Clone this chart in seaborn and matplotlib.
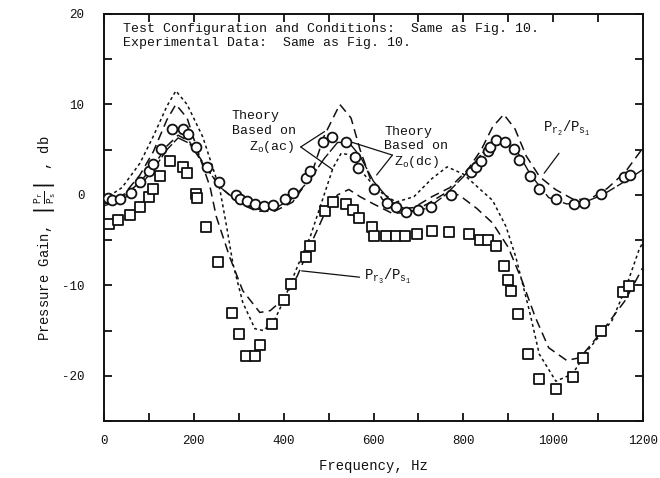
import numpy as np
import pandas as pd
import matplotlib
matplotlib.use("Agg")
import matplotlib.pyplot as plt
from matplotlib.ticker import MultipleLocator
import seaborn as sns

circ_f = [8, 17, 35, 60, 80, 101, 110, 126, 152, 176, 187, 204, 229, 255, 293, 302, 318, 336, 357,
          376, 402, 420, 450, 458, 487, 507, 538, 558, 566, 602, 631, 649, 673, 698, 729, 773, 817,
          828, 840, 854, 860, 873, 893, 912, 924, 948, 969, 1007, 1047, 1069, 1107, 1158, 1171]
circ_v = [-0.3, -0.6, -0.5, 0.2, 1.4, 2.6, 3.4, 5.1, 7.3, 7.3, 6.7, 5.3, 3.1, 1.4, 0.0, -0.4, -0.7,
          -1.0, -1.2, -1.1, -0.5, 0.2, 1.9, 2.6, 5.9, 6.4, 5.8, 4.2, 3.0, 0.6, -0.9, -1.3, -1.9, -1.7,
          -1.3, 0.0, 2.5, 3.1, 3.8, 4.8, 5.3, 6.1, 5.9, 5.1, 3.9, 2.1, 0.6, -0.5, -1.0, -0.9, 0.1, 2.0, 2.2]

sq_f = [12, 31, 58, 80, 101, 110, 124, 148, 175, 185, 204, 207, 228, 254, 285, 300, 317, 336, 348,
        374, 400, 417, 449, 458, 493, 509, 538, 555, 567, 596, 600, 628, 650, 670, 697, 731, 769, 813,
        836, 856, 873, 891, 900, 907, 922, 945, 969, 1006, 1044, 1067, 1106, 1156, 1169]
sq_v = [-3.2, -2.8, -2.2, -1.3, -0.2, 0.6, 2.1, 3.8, 3.1, 2.4, 0.1, -0.3, -3.6, -7.4, -13.1, -15.4,
        -17.8, -17.8, -16.6, -14.3, -11.6, -9.8, -6.9, -5.7, -1.8, -0.8, -1.0, -1.7, -2.5, -3.6, -4.5,
        -4.6, -4.6, -4.6, -4.3, -4.0, -4.1, -4.3, -5.0, -5.0, -5.7, -7.9, -9.4, -10.6, -13.2, -17.6,
        -20.4, -21.5, -20.1, -18.0, -15.1, -10.7, -10.1]

# ---- theory curves ----
pr2_a_f = [0, 40, 80, 110, 140, 165, 190, 220, 260, 300, 340, 380, 420, 460, 490, 520, 545, 570, 600,
           640, 680, 720, 760, 800, 840, 870, 895, 920, 950, 990, 1030, 1070, 1110, 1150, 1200]
pr2_a_v = [-1.2, -0.6, 1.0, 2.8, 5.0, 6.3, 5.7, 3.5, 0.8, -0.8, -1.6, -1.5, -0.4, 1.8, 4.0, 5.8, 5.8,
           4.3, 1.5, -0.8, -1.8, -1.5, 0.0, 2.0, 4.5, 6.0, 6.2, 4.8, 2.2, -0.3, -1.0, -0.8, 0.0, 1.2, 2.8]

pr2_b_f = [0, 40, 80, 110, 140, 165, 190, 220, 260, 300, 340, 380, 420, 460, 490, 525, 550, 570, 595,
           620, 650, 690, 730, 770, 810, 840, 865, 890, 915, 940, 970, 1005, 1045, 1080, 1120, 1160, 1200]
pr2_b_v = [-0.9, -0.3, 1.4, 3.2, 5.4, 6.6, 5.9, 3.6, 0.8, -0.9, -1.8, -1.8, -0.8, 2.0, 6.5, 10.0, 8.5,
           5.0, 1.5, -0.5, -1.6, -1.4, -0.2, 0.8, 2.8, 5.0, 7.5, 8.9, 7.3, 4.3, 2.0, 0.6, -0.5, -0.5,
           0.7, 2.5, 5.2]

pr3_a_f = [0, 40, 80, 110, 140, 160, 185, 213, 236, 250, 280, 309, 347, 370, 400, 430, 460, 490, 520,
           545, 570, 600, 640, 680, 720, 760, 790, 830, 865, 900, 930, 960, 990, 1030, 1060, 1110, 1160, 1200]
pr3_a_v = [-1.0, -0.2, 2.2, 4.8, 8.3, 10.0, 8.5, 4.2, 0.9, -2.4, -6.9, -10.6, -13.0, -12.8, -11.5,
           -9.0, -5.5, -2.2, 0.0, 0.6, -0.2, -1.0, -2.0, -2.0, -1.0, 0.2, 0.0, -1.5, -3.1, -5.8, -9.4,
           -13.5, -16.9, -18.3, -18.0, -15.0, -11.7, -8.0]

pr3_b_f = [0, 40, 80, 110, 140, 160, 185, 220, 258, 273, 287, 309, 336, 355, 380, 400, 430, 460, 490,
           510, 528, 550, 575, 610, 650, 690, 730, 764, 800, 840, 865, 895, 917, 947, 969, 1006, 1043,
           1080, 1131, 1160, 1191, 1200]
pr3_b_v = [-0.5, 0.8, 3.5, 6.5, 9.8, 11.5, 10.0, 6.4, 0.6, -3.5, -7.6, -11.9, -14.8, -15.0, -13.8,
           -11.7, -8.0, -4.5, 0.0, 3.0, 4.6, 4.4, 2.5, 0.5, -0.8, -0.2, 1.8, 3.1, 2.3, 0.5, -0.6, -3.5,
           -6.9, -12.8, -17.6, -20.6, -19.8, -17.0, -13.9, -10.5, -6.1, -5.2]

x_ticks_labeled = [0, 200, 400, 600, 800, 1000, 1200]
y_ticks_labeled = [-20, -10, 0, 10, 20]

sns.set_theme(style="ticks")
plt.rcParams["font.family"] = ["Liberation Mono", "DejaVu Sans"]
plt.rcParams["mathtext.fontset"] = "custom"
plt.rcParams["mathtext.rm"] = "Liberation Mono"
plt.rcParams["mathtext.it"] = "Liberation Mono"
plt.rcParams["mathtext.bf"] = "Liberation Mono"
plt.rcParams["axes.unicode_minus"] = False

fig = plt.figure(figsize=(6.6, 4.78), dpi=100)
ax = fig.add_axes([104 / 660, 1 - 421 / 478, (643 - 104) / 660, (421 - 14) / 478])

ink = "#111111"
sns.lineplot(x=pr2_a_f, y=pr2_a_v, ax=ax, color=ink, lw=1.0, linestyle=(0, (12, 2)),
             estimator=None, sort=False)
sns.lineplot(x=pr2_b_f, y=pr2_b_v, ax=ax, color=ink, lw=1.1, linestyle=(0, (6, 3.5)),
             estimator=None, sort=False)
sns.lineplot(x=pr3_a_f, y=pr3_a_v, ax=ax, color=ink, lw=1.1, linestyle=(0, (6, 3.5)),
             estimator=None, sort=False)
sns.lineplot(x=pr3_b_f, y=pr3_b_v, ax=ax, color=ink, lw=1.1, linestyle=(0, (2, 2)),
             estimator=None, sort=False)

sns.scatterplot(x=circ_f, y=circ_v, ax=ax, marker="o", s=50, facecolor="white",
                edgecolor=ink, linewidth=1.3, zorder=4)
sns.scatterplot(x=sq_f, y=sq_v, ax=ax, marker="s", s=46, facecolor="white",
                edgecolor=ink, linewidth=1.3, zorder=4)

ax.set_xlim(0, 1200)
ax.set_ylim(-25, 20)
ax.set_xticks(x_ticks_labeled)
ax.set_yticks(y_ticks_labeled)
ax.xaxis.set_minor_locator(MultipleLocator(100))
ax.yaxis.set_minor_locator(MultipleLocator(5))
ax.tick_params(which="both", direction="in", top=True, right=True, length=6, width=1.3,
               color=ink, labelcolor=ink, labelsize=9)
ax.tick_params(axis="y", pad=14)
ax.tick_params(axis="x", pad=10)
for s in ax.spines.values():
    s.set_linewidth(1.4)
    s.set_color(ink)

ax.set_xlabel("Frequency, Hz", fontsize=10, color=ink, labelpad=9)
ax.set_ylabel(r"Pressure Gain, $\left|\frac{\mathrm{P_r}}{\mathrm{P_s}}\right|$ , db",
              fontsize=10, color=ink)
ax.yaxis.set_label_coords(-0.085, 0.45)

tkw = dict(fontsize=9.5, color=ink, va="center", ha="left")
ax.text(42, 18.3, "Test Configuration and Conditions:  Same as Fig. 10.", **tkw)
ax.text(42, 16.8, "Experimental Data:  Same as Fig. 10.", **tkw)

ax.text(284, 8.7, "Theory", **tkw)
ax.text(284, 7.1, "Based on", **tkw)
ax.text(322, 5.3, r"Z$_\mathrm{o}$(ac)", **tkw)
ax.plot([438, 491], [5.3, 7.0], color=ink, lw=0.9)
ax.plot([438, 509], [5.3, 2.8], color=ink, lw=0.9)

ax.text(624, 7.0, "Theory", **tkw)
ax.text(624, 5.4, "Based on", **tkw)
ax.text(646, 3.6, r"Z$_\mathrm{o}$(dc)", **tkw)
ax.plot([642, 553], [4.4, 5.8], color=ink, lw=0.9)
ax.plot([642, 607], [4.4, 2.2], color=ink, lw=0.9)

ax.text(978, 7.4, r"$\mathrm{P_{r_2}/P_{s_1}}$", fontsize=10, color=ink, va="center", ha="left")
ax.plot([1013, 980], [4.6, 2.4], color=ink, lw=0.9)

ax.text(578, -9.0, r"$\mathrm{P_{r_3}/P_{s_1}}$", fontsize=10, color=ink, va="center", ha="left")
ax.plot([440, 569], [-8.4, -9.1], color=ink, lw=0.9)

fig.savefig("out.png", dpi=100)
